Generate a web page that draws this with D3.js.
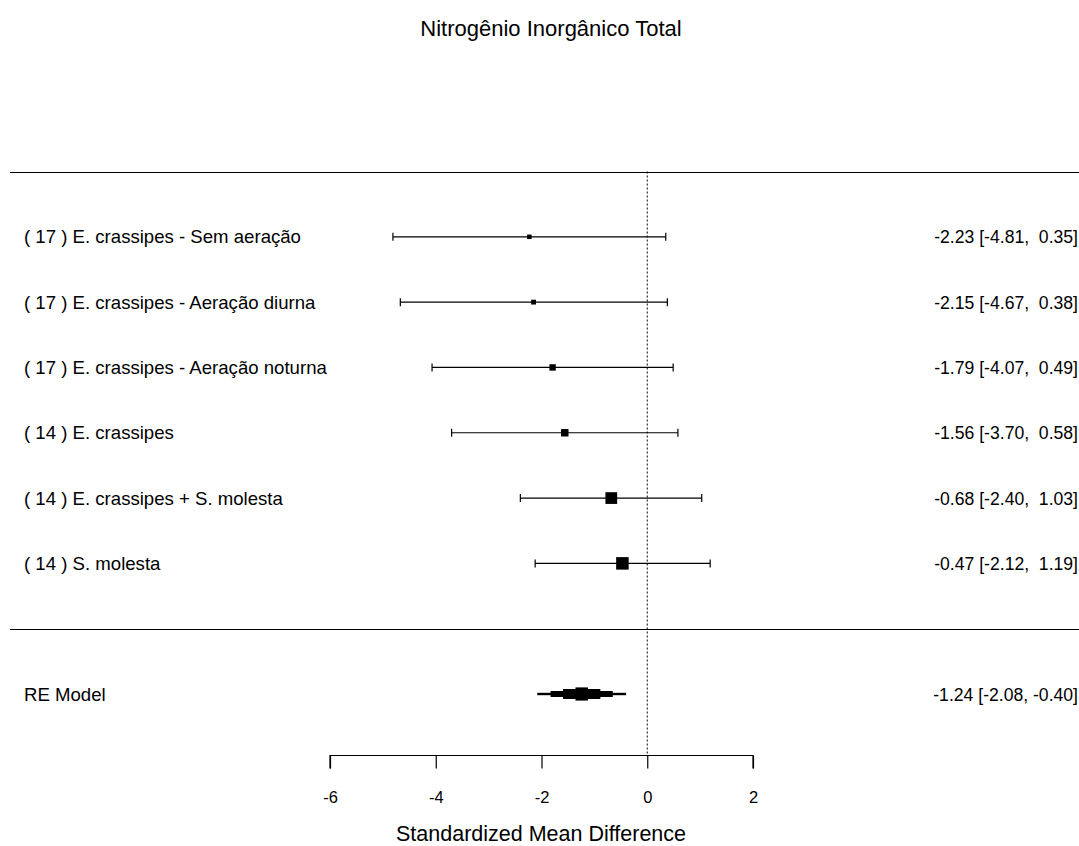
<!DOCTYPE html>
<html>
<head>
<meta charset="utf-8">
<script src="https://cdn.jsdelivr.net/npm/d3@7"></script>
<style>
  html, body { margin: 0; padding: 0; background: #fff; }
  svg text { font-family: "Liberation Sans", Arial, sans-serif; fill: #000; white-space: pre; }
</style>
</head>
<body>
<div id="chart"></div>
<script>
// ---- data ----
const studyLabels = [
  "( 17 ) E. crassipes - Sem aeração",
  "( 17 ) E. crassipes - Aeração diurna",
  "( 17 ) E. crassipes - Aeração noturna",
  "( 14 ) E. crassipes",
  "( 14 ) E. crassipes + S. molesta",
  "( 14 ) S. molesta"
];
const estimates = [-2.23, -2.15, -1.79, -1.56, -0.68, -0.47];
const lowerCI   = [-4.81, -4.67, -4.07, -3.70, -2.40, -2.12];
const upperCI   = [ 0.35,  0.38,  0.49,  0.58,  1.03,  1.19];
const modelLabel = "RE Model";
const modelEst = -1.24, modelLB = -2.08, modelUB = -0.40;
const tickValues = [-6, -4, -2, 0, 2];
const titleText = "Nitrogênio Inorgânico Total";
const xTitle = "Standardized Mean Difference";

// ---- layout ----
const W = 1079, H = 846;
const svg = d3.select("#chart").append("svg").attr("width", W).attr("height", H);

const x = d3.scaleLinear().domain([-6, 2]).range([330, 753]);
const y = d3.scaleLinear().domain([7, -1]).range([171.5, 694]);
const k = studyLabels.length;
const studies = studyLabels.map((l, i) => ({
  label: l, est: estimates[i], lb: lowerCI[i], ub: upperCI[i], row: k - i
}));

const prec = studies.map(d => 1 / (d.ub - d.lb));
const sz = d3.scaleLinear().domain(d3.extent(prec)).range([4.5, 12.5]);

const f2 = v => v.toFixed(2);
const pad = (v) => { const s = f2(v); return s.length < 5 ? " ".repeat(5 - s.length) + s : s; };
const ciText = (e, l, u) => `${f2(e)} [${pad(l)}, ${pad(u)}]`;

svg.append("text").attr("x", 551).attr("y", 36).attr("text-anchor", "middle")
  .style("font-size", "22px").text(titleText);

[7, 0].forEach(r => {
  svg.append("line").attr("x1", 10).attr("x2", 1079)
    .attr("y1", Math.round(y(r)) + 0.5).attr("y2", Math.round(y(r)) + 0.5)
    .attr("stroke", "#000").attr("stroke-width", 1.2);
});

svg.append("line").attr("x1", x(0)).attr("x2", x(0))
  .attr("y1", y(7)).attr("y2", 755)
  .attr("stroke", "#000").attr("stroke-width", 1).attr("stroke-dasharray", "2,2");

const g = svg.append("g");
studies.forEach(d => {
  const yy = y(d.row);
  g.append("line").attr("x1", x(d.lb)).attr("x2", x(d.ub)).attr("y1", yy).attr("y2", yy)
    .attr("stroke", "#000").attr("stroke-width", 1.2);
  [d.lb, d.ub].forEach(v => {
    g.append("line").attr("x1", x(v)).attr("x2", x(v)).attr("y1", yy - 4).attr("y2", yy + 4)
      .attr("stroke", "#000").attr("stroke-width", 1.2);
  });
  const s = sz(1 / (d.ub - d.lb));
  g.append("rect").attr("x", x(d.est) - s / 2).attr("y", yy - s / 2)
    .attr("width", s).attr("height", s).attr("fill", "#000");
  g.append("text").attr("x", 24).attr("y", yy + 6.5).style("font-size", "18.6px").text(d.label);
  g.append("text").attr("x", 1078).attr("y", yy + 6.5).attr("text-anchor", "end")
    .style("font-size", "17.6px").text(ciText(d.est, d.lb, d.ub));
});

const ym = y(-1);
const steps = [ [1.0, 1.2], [0.7, 3.0], [0.42, 5.0], [0.14, 6.6] ];
const cx = x(modelEst), hwL = cx - x(modelLB), hwR = x(modelUB) - cx;
steps.forEach(([f, hh]) => {
  const x0 = cx - hwL * f, x1 = cx + hwR * f;
  svg.append("rect").attr("x", x0).attr("y", ym - hh).attr("width", x1 - x0).attr("height", 2 * hh)
    .attr("fill", "#000");
});
svg.append("text").attr("x", 24).attr("y", ym + 6.5).style("font-size", "18.6px").text(modelLabel);
svg.append("text").attr("x", 1078).attr("y", ym + 6.5).attr("text-anchor", "end")
  .style("font-size", "17.6px").text(ciText(modelEst, modelLB, modelUB));

const axis = d3.axisBottom(x).tickValues(tickValues).tickSize(13).tickPadding(23)
  .tickFormat(d => d < 0 ? "-" + Math.abs(d) : String(d));
const ag = svg.append("g").attr("transform", "translate(0,755.5)").call(axis);
ag.attr("font-size", null).attr("font-family", null);
ag.select(".domain").attr("stroke", "#000").attr("stroke-width", 1.2).attr("d", `M${x(-6)},13V0H${x(2)}V13`);
ag.selectAll(".tick line").attr("stroke", "#000").attr("stroke-width", 1.2);
ag.selectAll(".tick text").style("font-size", "16.5px").attr("fill", "#000");

svg.append("text").attr("x", 541).attr("y", 841).attr("text-anchor", "middle")
  .style("font-size", "21.5px").text(xTitle);
</script>
</body>
</html>
